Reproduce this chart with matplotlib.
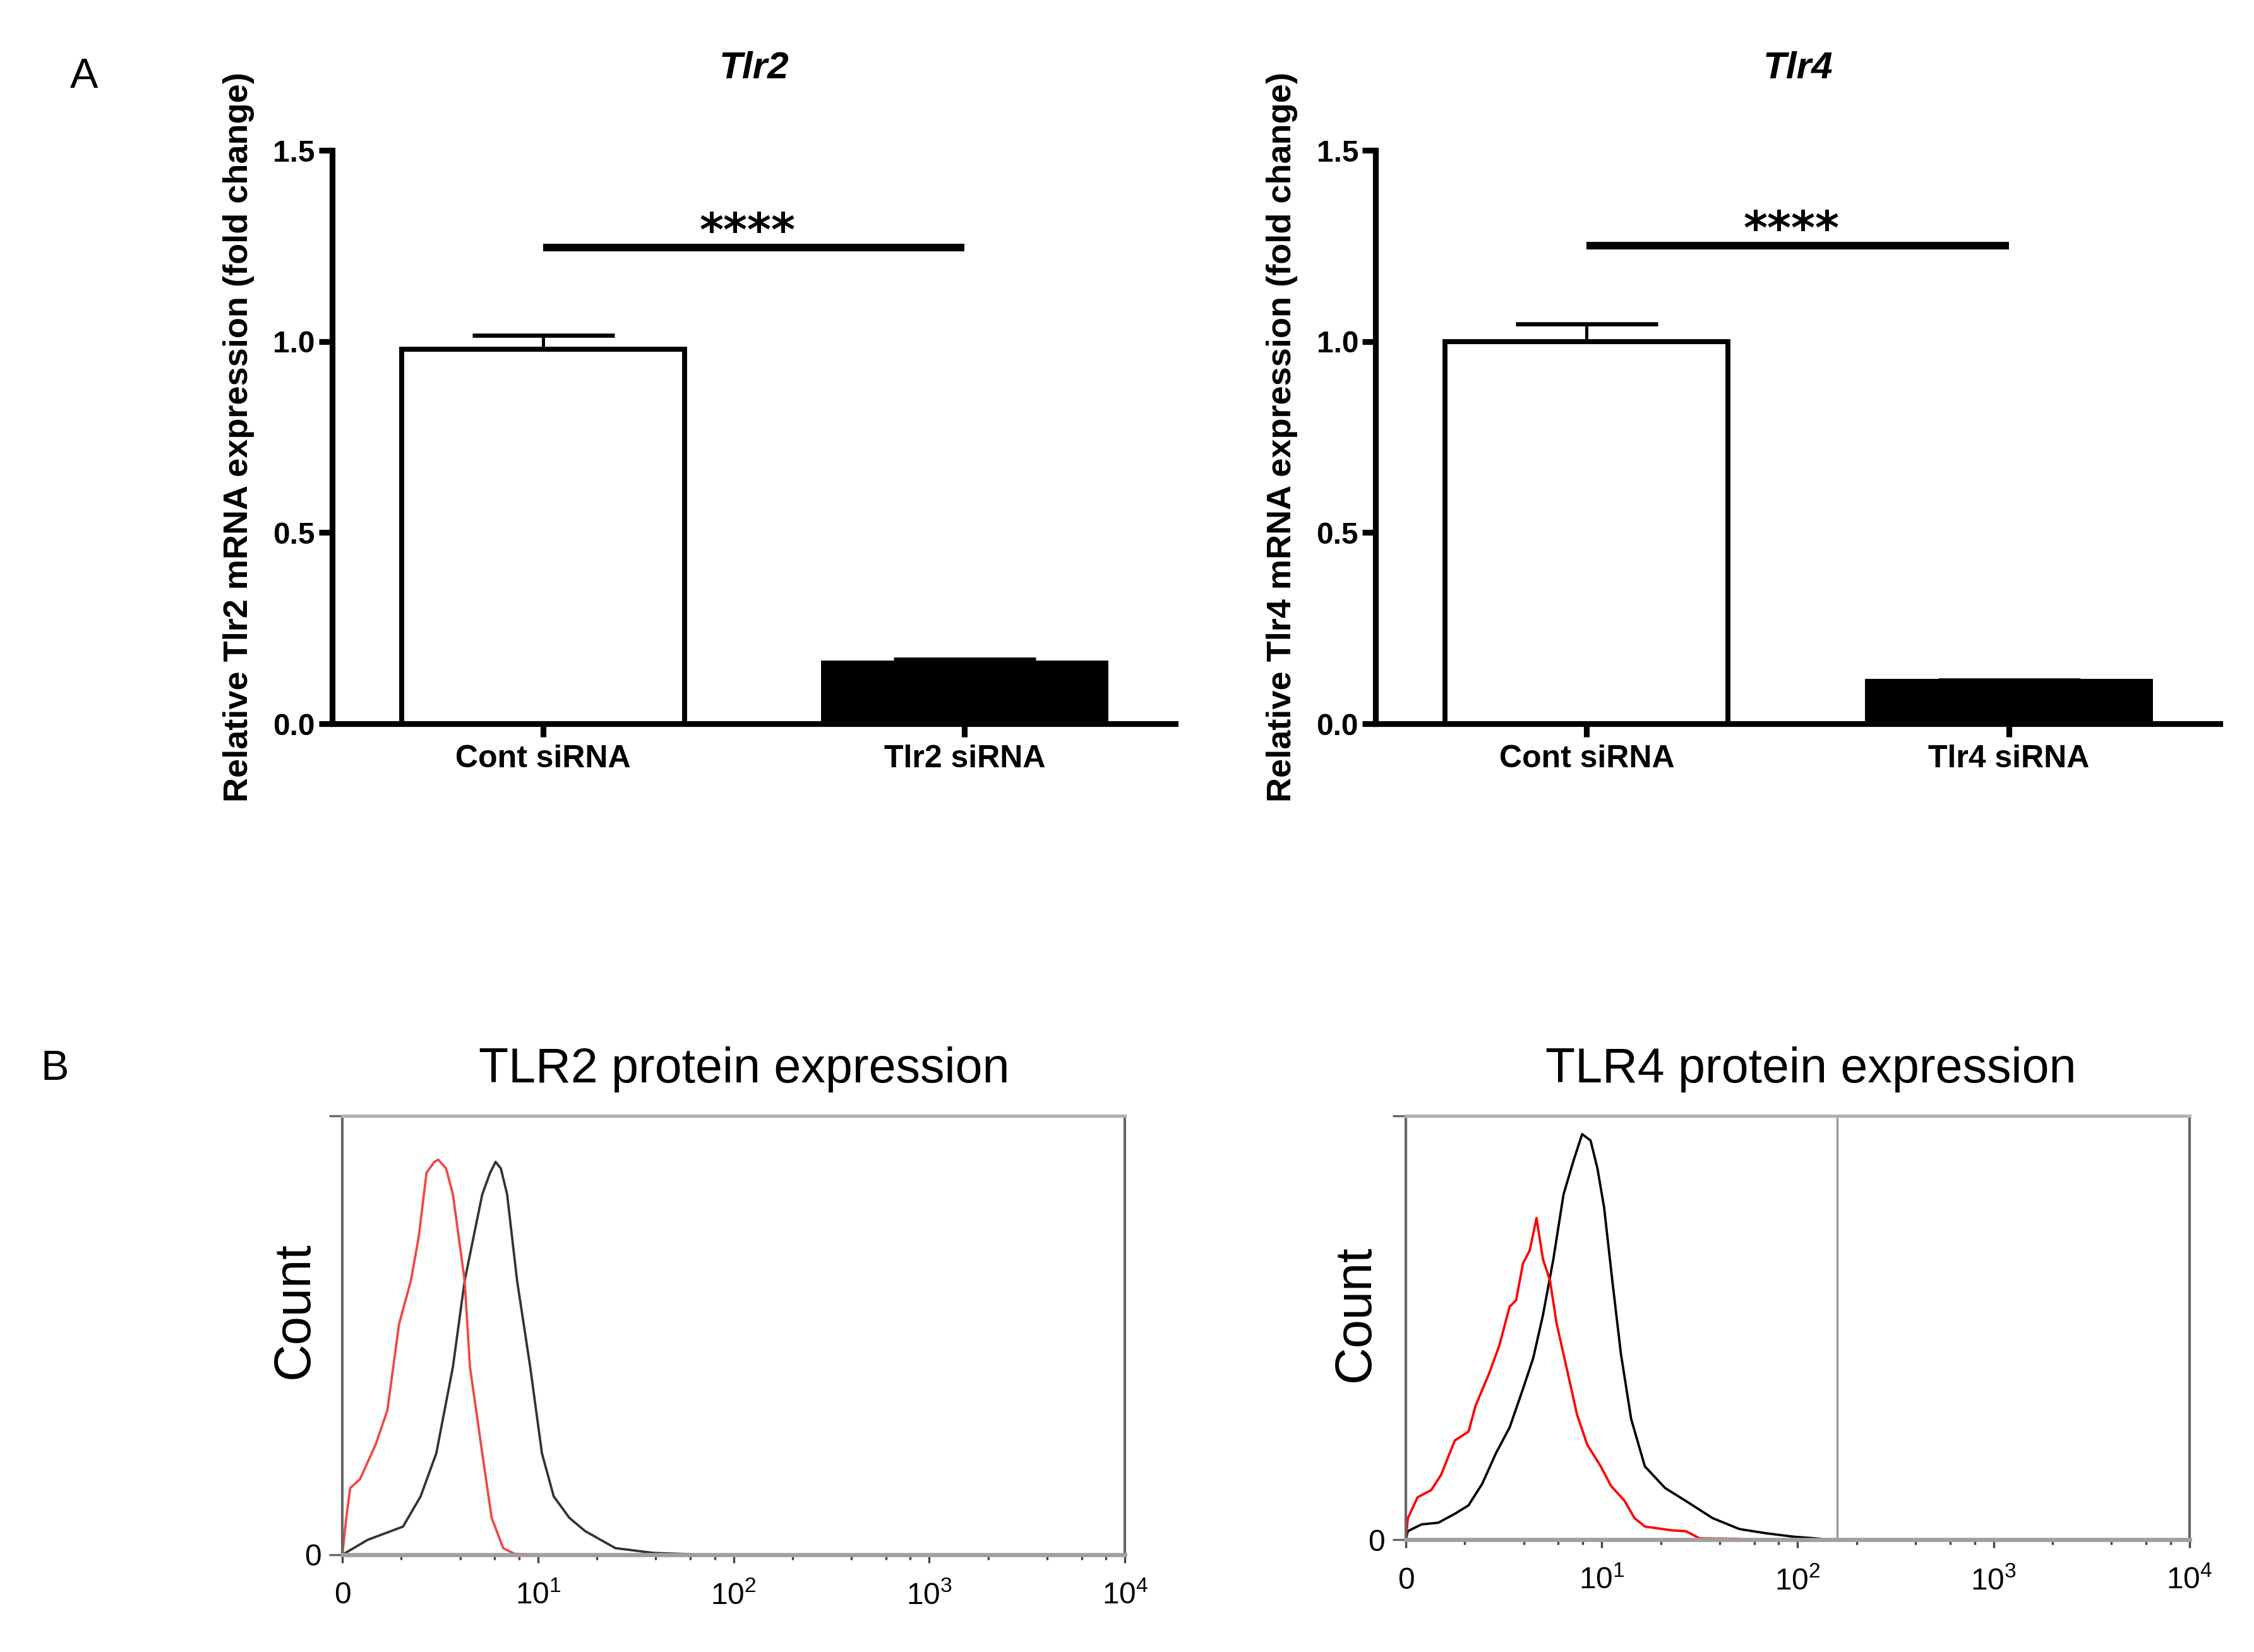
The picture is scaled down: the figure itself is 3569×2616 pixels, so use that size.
import math
import matplotlib
matplotlib.use("Agg")
import matplotlib.pyplot as plt
from matplotlib.ticker import FixedLocator

plt.rcParams["font.family"] = ["Liberation Sans", "DejaVu Sans"]
plt.rcParams["mathtext.default"] = "regular"

# ---- panel A: qPCR bars ----
groups_tlr2 = ["Cont siRNA", "Tlr2 siRNA"]
groups_tlr4 = ["Cont siRNA", "Tlr4 siRNA"]
tlr2_mean = [0.980, 0.158]
tlr2_sem = [0.036, 0.010]
tlr4_mean = [1.000, 0.110]
tlr4_sem = [0.045, 0.004]
sig_y = [1.245, 1.250]
y_ticks = [0.0, 0.5, 1.0, 1.5]

# ---- panel B: flow cytometry histograms (x in decades, y in % of axis height) ----
tlr2_ctrl_x = [0, 0.13, 0.31, 0.40, 0.48, 0.565, 0.625, 0.67, 0.715, 0.755, 0.783,
               0.81, 0.842, 0.893, 0.96, 1.02, 1.08, 1.16, 1.24, 1.395, 1.59, 1.79]
tlr2_ctrl_y = [0, 3.4, 6.4, 13.3, 23.1, 42.8, 62.4, 72.3, 82.1, 87.0, 89.5,
               88.0, 82.1, 62.4, 42.8, 23.1, 13.3, 8.4, 5.4, 1.5, 0.4, 0.1]
tlr2_si_x = [0, 0.02, 0.04, 0.09, 0.17, 0.23, 0.29, 0.35, 0.39, 0.43, 0.47, 0.49,
             0.53, 0.565, 0.625, 0.652, 0.715, 0.763, 0.822, 0.88, 1.0]
tlr2_si_y = [0, 8.4, 15.2, 17.2, 25.1, 32.9, 52.6, 62.4, 72.3, 87.0, 89.5, 90.0,
             88.0, 82.1, 62.4, 42.8, 23.1, 8.4, 1.5, 0.2, 0]

tlr4_ctrl_x = [0, 0.01, 0.08, 0.166, 0.25, 0.32, 0.39, 0.46, 0.53, 0.598, 0.65, 0.70,
               0.753, 0.805, 0.857, 0.90, 0.943, 0.978, 1.012, 1.054, 1.098, 1.15,
               1.22, 1.323, 1.427, 1.565, 1.703, 1.84, 1.98, 2.12]
tlr4_ctrl_y = [0, 2.0, 3.6, 4.0, 6.1, 8.1, 13.2, 20.4, 26.5, 35.6, 42.8, 53.0,
               66.2, 81.5, 89.6, 95.7, 94.2, 87.6, 78.4, 61.1, 43.8, 28.5,
               17.3, 12.2, 9.2, 5.1, 2.5, 1.5, 0.7, 0.2]
tlr4_si_x = [0, 0.01, 0.06, 0.13, 0.18, 0.25, 0.32, 0.356, 0.425, 0.477, 0.53, 0.563,
             0.598, 0.632, 0.667, 0.70, 0.736, 0.77, 0.82, 0.874, 0.926, 0.995,
             1.047, 1.116, 1.167, 1.22, 1.357, 1.43, 1.5, 1.70]
tlr4_si_y = [0, 5.0, 10.0, 11.7, 15.3, 23.4, 25.5, 31.6, 39.2, 45.8, 55.0, 56.5,
             65.2, 68.2, 75.9, 66.2, 61.1, 50.9, 40.7, 29.5, 22.4, 17.3,
             12.7, 9.2, 5.1, 3.1, 2.2, 2.0, 0.3, 0.2]
tlr4_gate = 2.2

decade_ticks = [0, 1, 2, 3, 4]
decade_labels = ["0", "$10^{1}$", "$10^{2}$", "$10^{3}$", "$10^{4}$"]
minor_steps = [2, 4, 6, 8]


def draw_bars(ax, groups, means, sems, sig, title, ylabel):
    x = list(range(len(groups)))
    ax.errorbar(x, means, yerr=[[0] * len(x), sems], fmt="none", ecolor="black",
                elinewidth=1.2, capsize=27, capthick=1.6, zorder=1)
    ax.bar(x, means, width=0.67, color=["white", "black"], edgecolor="black",
           linewidth=1.9, zorder=2)
    ax.plot([x[0], x[1]], [sig, sig], color="black", lw=2.9,
            solid_capstyle="butt")
    ax.text(0.485, sig + 0.006, "****", ha="center", va="baseline", fontsize=17.5,
            fontweight="bold", family=["DejaVu Sans"])
    ax.set_xlim(-0.5, 1.5)
    ax.set_ylim(0, 1.5)
    ax.set_xticks(x)
    ax.set_xticklabels(groups, fontsize=12, fontweight="bold")
    ax.set_yticks(y_ticks)
    ax.set_yticklabels([f"{t:.1f}" for t in y_ticks], fontsize=11.5, fontweight="bold")
    for s in ["top", "right"]:
        ax.spines[s].set_visible(False)
    for s in ["left", "bottom"]:
        ax.spines[s].set_linewidth(2.2)
    ax.tick_params(axis="both", width=2.2, length=5)
    ax.tick_params(axis="x", pad=3)
    ax.tick_params(axis="y", pad=1.5)
    ax.text(0.5, 1.143, title, transform=ax.transAxes, ha="center", va="center",
            fontsize=14.5, fontweight="bold", fontstyle="italic")
    ax.set_ylabel(ylabel, fontsize=13, fontweight="bold")
    ax.yaxis.set_label_coords(-0.092, 0.5)


def draw_hist(ax, ctrl_x, ctrl_y, si_x, si_y, ctrl_color, si_color, gate=None):
    ax.plot(ctrl_x, ctrl_y, color=ctrl_color, lw=0.9)
    ax.plot(si_x, si_y, color=si_color, lw=0.9)
    if gate is not None:
        ax.axvline(gate, color="#999999", lw=0.8)
    ax.set_xlim(0, 4)
    ax.set_ylim(0, 100)
    ax.set_xticks(decade_ticks)
    ax.set_xticklabels(decade_labels, fontsize=11.5)
    minors = [d + math.log10(m) for d in range(4) for m in minor_steps]
    ax.xaxis.set_minor_locator(FixedLocator(minors))
    ax.set_yticks([0, 100])
    ax.set_yticklabels(["0", ""], fontsize=11.5)
    ax.tick_params(axis="x", which="major", length=3.2, width=0.8, color="#444444", pad=7)
    ax.tick_params(axis="x", which="minor", length=1.8, width=0.8, color="#444444")
    ax.tick_params(axis="y", length=5, width=0.8, color="#666666", pad=3)
    ax.spines["left"].set_color("#666666")
    ax.spines["right"].set_color("#666666")
    ax.spines["top"].set_color("#b0b0b0")
    ax.spines["bottom"].set_color("#a0a0a0")
    ax.spines["left"].set_linewidth(1.0)
    ax.spines["right"].set_linewidth(1.0)
    ax.spines["top"].set_linewidth(1.2)
    ax.spines["bottom"].set_linewidth(1.6)
    ax.set_ylabel("Count", fontsize=19.5)


def main():
    fig = plt.figure(figsize=(3569 / 300, 2616 / 300), dpi=300)

    ax1 = fig.add_axes([0.1474, 0.5619, 0.3741, 0.3471])
    ax2 = fig.add_axes([0.6103, 0.5619, 0.3746, 0.3471])
    draw_bars(ax1, groups_tlr2, tlr2_mean, tlr2_sem, sig_y[0], "Tlr2",
              "Relative Tlr2 mRNA expression (fold change)")
    draw_bars(ax2, groups_tlr4, tlr4_mean, tlr4_sem, sig_y[1], "Tlr4",
              "Relative Tlr4 mRNA expression (fold change)")

    ax3 = fig.add_axes([0.1519, 0.0589, 0.3472, 0.2657])
    ax4 = fig.add_axes([0.6237, 0.0680, 0.3477, 0.2565])
    draw_hist(ax3, tlr2_ctrl_x, tlr2_ctrl_y, tlr2_si_x, tlr2_si_y, "#333333", "#f04848")
    draw_hist(ax4, tlr4_ctrl_x, tlr4_ctrl_y, tlr4_si_x, tlr4_si_y, "black", "red",
              gate=tlr4_gate)
    ax3.yaxis.set_label_coords(-0.030, 0.557)
    ax4.yaxis.set_label_coords(-0.033, 0.534)

    fig.text(1178 / 3569, 1 - 1693 / 2616, "TLR2 protein expression", ha="center",
             va="center", fontsize=18.5)
    fig.text(2867 / 3569, 1 - 1693 / 2616, "TLR4 protein expression", ha="center",
             va="center", fontsize=18.5)

    fig.text(133 / 3569, 1 - 122 / 2616, "A", ha="center", va="center", fontsize=16)
    fig.text(87 / 3569, 1 - 1693 / 2616, "B", ha="center", va="center", fontsize=16)

    fig.savefig("out.png", dpi=300)
    plt.close(fig)


if __name__ == "__main__":
    main()
